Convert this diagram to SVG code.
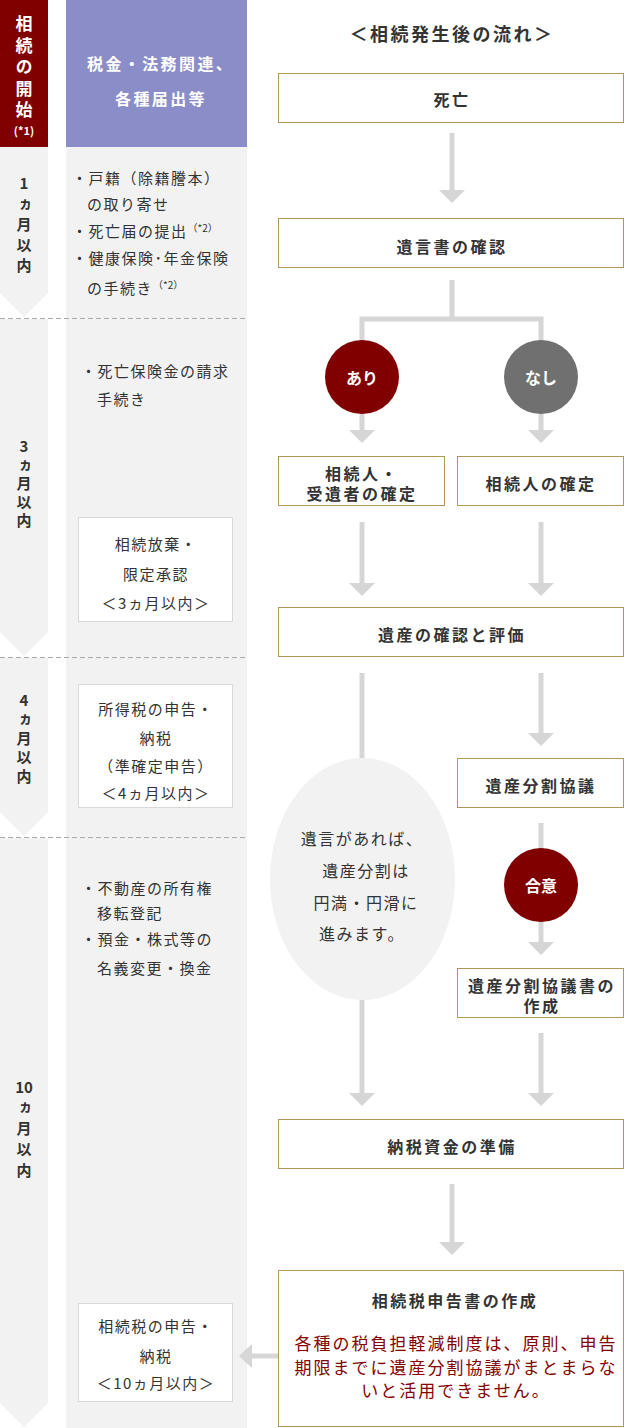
<svg xmlns="http://www.w3.org/2000/svg" width="625" height="1428" viewBox="0 0 625 1428">
<style>
text{font-family:"Noto Sans CJK JP","Noto Sans",sans-serif;dominant-baseline:central;}
.vt{font-size:15px;font-weight:700;fill:#333;writing-mode:vertical-rl;text-orientation:upright;}
.hd{font-size:16px;font-weight:700;fill:#fff;letter-spacing:2.4px;}
.li{font-size:15px;fill:#333;letter-spacing:1.5px;}
.lc{font-size:15px;fill:#333;letter-spacing:1.5px;text-anchor:middle;}
.sup{font-size:10px;letter-spacing:0;}
.bx{fill:#fff;stroke:#b09658;stroke-width:1;}
.wb{fill:#fff;stroke:#d9d9d9;stroke-width:1;}
.bt{font-size:16px;font-weight:700;fill:#333;letter-spacing:2.5px;text-anchor:middle;}
.ct{font-size:16px;font-weight:700;fill:#fff;text-anchor:middle;}
.et{font-size:16px;fill:#333;letter-spacing:1.5px;text-anchor:middle;}
.rt{font-size:17px;fill:#850000;letter-spacing:2px;text-anchor:middle;}
.ln{fill:none;stroke:#d6d6d6;stroke-width:5;}
.ah{fill:#d6d6d6;}
.chev{fill:#f2f2f2;}
.dash{stroke:#aaa;stroke-width:1;stroke-dasharray:5 3;}
</style>

<g id="timeline">
  <rect x="0" y="0" width="48" height="147" fill="#800000"/>
  <text class="vt" style="fill:#fff;font-size:17px;letter-spacing:4.5px" x="24" y="15.5">相続の開始</text>
  <text x="24" y="130" style="font-size:11px;font-weight:700;fill:#fff;text-anchor:middle">(*1)</text>
  <polygon class="chev" points="0,147 48,147 48,293 24,317 0,293"/>
  <polygon class="chev" points="0,319 48,319 48,632 24,656 0,632"/>
  <polygon class="chev" points="0,658 48,658 48,812 24,836 0,812"/>
  <polygon class="chev" points="0,838 48,838 48,1403 24,1427 0,1403"/>
  <text class="vt" style="letter-spacing:5.5px" x="24" y="176">1ヵ月以内</text>
  <text class="vt" style="letter-spacing:3.5px" x="24" y="439">3ヵ月以内</text>
  <text class="vt" style="letter-spacing:4px" x="24" y="692.5">4ヵ月以内</text>
  <text x="24" y="1086" style="font-size:15px;font-weight:700;fill:#333;text-anchor:middle">10</text>
  <text class="vt" style="letter-spacing:6px" x="24" y="1099.5">ヵ月以内</text>
</g>

<g id="tax-column">
  <rect x="66" y="0" width="181" height="147" fill="#8b8dc8"/>
  <rect x="66" y="147" width="181" height="1281" fill="#f2f2f2"/>
  <text class="hd" x="87" y="63">税金・法務関連、</text>
  <text class="hd" x="115" y="98">各種届出等</text>
  <text class="li" x="72" y="177">・戸籍（除籍謄本）</text>
  <text class="li" x="87" y="203">の取り寄せ</text>
  <text class="li" x="72" y="230">・死亡届の提出<tspan class="sup" dy="-3">（*2）</tspan></text>
  <text class="li" x="72" y="257">・健康保険･年金保険</text>
  <text class="li" x="87" y="287">の手続き<tspan class="sup" dy="-3">（*2）</tspan></text>
  <text class="li" x="81" y="370">・死亡保険金の請求</text>
  <text class="li" x="97" y="398">手続き</text>
  <text class="li" x="81" y="887">・不動産の所有権</text>
  <text class="li" x="97" y="912">移転登記</text>
  <text class="li" x="81" y="938">・預金・株式等の</text>
  <text class="li" x="97" y="967">名義変更・換金</text>
  <line class="dash" x1="0" y1="318.5" x2="247" y2="318.5"/>
  <line class="dash" x1="0" y1="657.5" x2="247" y2="657.5"/>
  <line class="dash" x1="0" y1="837.5" x2="247" y2="837.5"/>
</g>

<g id="node-houki">
  <rect class="wb" x="78.5" y="517.5" width="154" height="104"/>
  <text class="lc" x="156" y="543">相続放棄・</text>
  <text class="lc" x="156" y="573">限定承認</text>
  <text class="lc" x="156" y="602">＜3ヵ月以内＞</text>
</g>
<g id="node-shotoku">
  <rect class="wb" x="78.5" y="684.5" width="154" height="123"/>
  <text class="lc" x="156" y="708">所得税の申告・</text>
  <text class="lc" x="156" y="737">納税</text>
  <text class="lc" x="156" y="765">（準確定申告）</text>
  <text class="lc" x="156" y="792">＜4ヵ月以内＞</text>
</g>
<g id="node-souzokuzei">
  <rect class="wb" x="78.5" y="1303.5" width="154" height="98"/>
  <text class="lc" x="156" y="1325">相続税の申告・</text>
  <text class="lc" x="156" y="1355">納税</text>
  <text class="lc" x="156" y="1382">＜10ヵ月以内＞</text>
</g>

<text id="title" class="bt" style="font-size:18px" x="452" y="33">＜相続発生後の流れ＞</text>

<g id="connectors">
  <line class="ln" x1="452" y1="133" x2="452" y2="191"/>
  <polygon class="ah" points="439,190 465,190 452,203"/>
  <path class="ln" d="M452,280 V319 M362,430 V319 H541 V430"/>
  <polygon class="ah" points="349,430 375,430 362,443"/>
  <polygon class="ah" points="528,430 554,430 541,443"/>
  <line class="ln" x1="362" y1="522" x2="362" y2="584"/>
  <line class="ln" x1="541" y1="522" x2="541" y2="584"/>
  <polygon class="ah" points="349,583 375,583 362,596"/>
  <polygon class="ah" points="528,583 554,583 541,596"/>
  <line class="ln" x1="362" y1="673" x2="362" y2="760"/>
  <line class="ln" x1="541" y1="673" x2="541" y2="734"/>
  <polygon class="ah" points="528,733 554,733 541,746"/>
  <line class="ln" x1="541" y1="823" x2="541" y2="943"/>
  <polygon class="ah" points="528,942 554,942 541,955"/>
  <line class="ln" x1="362" y1="998" x2="362" y2="1094"/>
  <line class="ln" x1="541" y1="1033" x2="541" y2="1094"/>
  <polygon class="ah" points="349,1093 375,1093 362,1106"/>
  <polygon class="ah" points="528,1093 554,1093 541,1106"/>
  <line class="ln" x1="452" y1="1184" x2="452" y2="1243"/>
  <polygon class="ah" points="439,1242 465,1242 452,1255"/>
  <line class="ln" x1="278" y1="1356" x2="251" y2="1356"/>
  <polygon class="ah" points="252,1344 252,1368 239,1356"/>
</g>

<g id="node-shibou">
  <rect class="bx" x="278.5" y="73.5" width="345" height="49"/>
  <text class="bt" x="452" y="99">死亡</text>
</g>
<g id="node-yuigon">
  <rect class="bx" x="278.5" y="218.5" width="345" height="49"/>
  <text class="bt" x="452" y="246">遺言書の確認</text>
</g>
<g id="node-ari">
  <circle cx="362" cy="377" r="37" fill="#800000"/>
  <text class="ct" x="362" y="377">あり</text>
</g>
<g id="node-nashi">
  <circle cx="541" cy="377" r="37" fill="#707070"/>
  <text class="ct" x="541" y="377">なし</text>
</g>
<g id="node-juisha">
  <rect class="bx" x="278.5" y="456.5" width="166" height="49"/>
  <text class="bt" x="362" y="473">相続人・</text>
  <text class="bt" x="362" y="493">受遺者の確定</text>
</g>
<g id="node-souzokunin">
  <rect class="bx" x="457.5" y="456.5" width="166" height="49"/>
  <text class="bt" x="541" y="483">相続人の確定</text>
</g>
<g id="node-isan">
  <rect class="bx" x="278.5" y="607.5" width="345" height="49"/>
  <text class="bt" x="452" y="634">遺産の確認と評価</text>
</g>
<g id="node-note">
  <ellipse cx="362.5" cy="879" rx="92.5" ry="121" fill="#f2f2f2"/>
  <text class="et" x="362" y="838">遺言があれば、</text>
  <text class="et" x="366" y="870">遺産分割は</text>
  <text class="et" x="366" y="902">円満・円滑に</text>
  <text class="et" x="362" y="933">進みます。</text>
</g>
<g id="node-kyougi">
  <rect class="bx" x="457.5" y="758.5" width="166" height="49"/>
  <text class="bt" x="541" y="785">遺産分割協議</text>
</g>
<g id="node-goui">
  <circle cx="541" cy="885" r="37" fill="#800000"/>
  <text class="ct" x="541" y="885">合意</text>
</g>
<g id="node-kyougisho">
  <rect class="bx" x="457.5" y="968.5" width="166" height="49"/>
  <text class="bt" x="542" y="985">遺産分割協議書の</text>
  <text class="bt" x="542" y="1005">作成</text>
</g>
<g id="node-nouzei">
  <rect class="bx" x="278.5" y="1119.5" width="345" height="49"/>
  <text class="bt" x="452" y="1146">納税資金の準備</text>
</g>
<g id="node-shinkokusho">
  <rect class="bx" x="278.5" y="1270.5" width="345" height="156"/>
  <text class="bt" x="455" y="1300">相続税申告書の作成</text>
  <text class="rt" x="456" y="1342">各種の税負担軽減制度は、原則、申告</text>
  <text class="rt" x="456" y="1366">期限までに遺産分割協議がまとまらな</text>
  <text class="rt" x="456" y="1389">いと活用できません。</text>
</g>
</svg>
